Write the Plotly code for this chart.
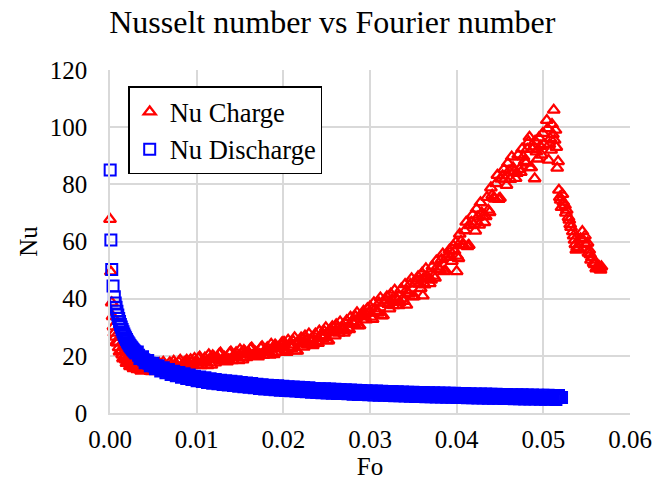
import plotly.graph_objects as go

# Half-step Fo sampling positions shared by both series (dense part of the bands)
fo_half_steps = [
    0.00345, 0.00375, 0.00405, 0.00435, 0.00465, 0.00495, 0.00525, 0.00555, 0.00585, 0.00615,
    0.00645, 0.00675, 0.00705, 0.00735, 0.00765, 0.00795, 0.00825, 0.00855, 0.00885, 0.00915,
    0.00945, 0.00975,
    0.01005, 0.01035, 0.01065, 0.01095, 0.01125, 0.01155, 0.01185, 0.01215, 0.01245, 0.01275,
    0.01305, 0.01335, 0.01365, 0.01395, 0.01425, 0.01455, 0.01485, 0.01515, 0.01545, 0.01575,
    0.01605, 0.01635, 0.01665, 0.01695, 0.01725, 0.01755, 0.01785, 0.01815, 0.01845, 0.01875,
    0.01905, 0.01935, 0.01965, 0.01995,
    0.02025, 0.02055, 0.02085, 0.02115, 0.02145, 0.02175, 0.02205, 0.02235, 0.02265, 0.02295,
    0.02325, 0.02355, 0.02385, 0.02415, 0.02445, 0.02475, 0.02505, 0.02535, 0.02565, 0.02595,
    0.02625, 0.02655, 0.02685, 0.02715, 0.02745, 0.02775, 0.02805, 0.02835, 0.02865, 0.02895,
    0.02925, 0.02955, 0.02985,
    0.03015, 0.03045, 0.03075, 0.03105, 0.03135, 0.03165, 0.03195, 0.03225, 0.03255, 0.03285,
    0.03315, 0.03345, 0.03375, 0.03405, 0.03435, 0.03465, 0.03495, 0.03525, 0.03555, 0.03585,
    0.03615, 0.03645, 0.03675, 0.03705, 0.03735, 0.03765, 0.03795, 0.03825, 0.03855, 0.03885,
    0.03915, 0.03945, 0.03975,
    0.04005, 0.04035, 0.04065, 0.04095, 0.04125, 0.04155, 0.04185, 0.04215, 0.04245, 0.04275,
    0.04305, 0.04335, 0.04365, 0.04395, 0.04425, 0.04455, 0.04485, 0.04515, 0.04545, 0.04575,
    0.04605, 0.04635, 0.04665, 0.04695, 0.04725, 0.04755, 0.04785, 0.04815, 0.04845, 0.04875,
    0.04905, 0.04935, 0.04965, 0.04995,
]

# Charge: Nusselt number against Fourier number
fo_charge = [
    0.0, 0.0001, 0.0002, 0.0003, 0.0004, 0.0005, 0.0006, 0.0008, 0.0010, 0.0012,
    0.0014, 0.0016, 0.0018, 0.0020, 0.0022, 0.0024, 0.0026, 0.0028, 0.0030,
    0.0033, 0.0036, 0.0039, 0.0042, 0.0045, 0.0048, 0.0051, 0.0054, 0.0057, 0.0060,
    0.0063, 0.0066, 0.0069, 0.0072, 0.0075, 0.0078, 0.0081, 0.0084, 0.0087, 0.0090,
    0.0093, 0.0096, 0.0099,
    0.0102, 0.0105, 0.0108, 0.0111, 0.0114, 0.0117, 0.0120, 0.0123, 0.0126, 0.0129,
    0.0132, 0.0135, 0.0138, 0.0141, 0.0144, 0.0147, 0.0150, 0.0153, 0.0156, 0.0159,
    0.0162, 0.0165, 0.0168, 0.0171, 0.0174, 0.0177, 0.0180, 0.0183, 0.0186, 0.0189,
    0.0192, 0.0195, 0.0198,
    0.0201, 0.0204, 0.0207, 0.0210, 0.0213, 0.0216, 0.0219, 0.0222, 0.0225, 0.0228,
    0.0231, 0.0234, 0.0237, 0.0240, 0.0243, 0.0246, 0.0249, 0.0252, 0.0255, 0.0258,
    0.0261, 0.0264, 0.0267, 0.0270, 0.0273, 0.0276, 0.0279, 0.0282, 0.0285, 0.0288,
    0.0291, 0.0294, 0.0297,
    0.0300, 0.0303, 0.0306, 0.0309, 0.0312, 0.0315, 0.0318, 0.0321, 0.0324, 0.0327,
    0.0330, 0.0333, 0.0336, 0.0339, 0.0342, 0.0345, 0.0348, 0.0351, 0.0354, 0.0357,
    0.0360, 0.0363, 0.0366, 0.0369, 0.0372, 0.0375, 0.0378, 0.0381, 0.0384, 0.0387,
    0.0390, 0.0393, 0.0396,
    0.0399, 0.0402, 0.0405, 0.0408, 0.0411, 0.0414, 0.0417, 0.0420, 0.0423, 0.0426,
    0.0429, 0.0432, 0.0435, 0.0438, 0.0441, 0.0444, 0.0447, 0.0450, 0.0453, 0.0456,
    0.0459, 0.0462, 0.0465, 0.0468, 0.0471, 0.0474, 0.0477, 0.0480, 0.0483, 0.0486,
    0.0489, 0.0492, 0.0495, 0.0498, 0.0501,
    0.0504, 0.0506, 0.0508, 0.0510, 0.0512, 0.0513, 0.0515, 0.0516, 0.0518, 0.0520,
    0.0522, 0.0525, 0.0527, 0.0530, 0.0532, 0.0534, 0.0536, 0.0538, 0.0540, 0.0545,
    0.0548, 0.0551, 0.0553, 0.0556, 0.0559, 0.0562, 0.0565, 0.0567,
    0.0342, 0.0361, 0.0400, 0.0484, 0.0490, 0.0509, 0.0514, 0.0517,
    0.0521, 0.0529, 0.0543, 0.0554,
    0.0505, 0.0507, 0.0511, 0.0519, 0.0523, 0.0526, 0.0531, 0.0535, 0.0537, 0.0539,
    0.0546, 0.0549, 0.0552, 0.0555, 0.0558, 0.0561, 0.0564, 0.0566,
    0.0007, 0.0009, 0.0011, 0.0013, 0.0015, 0.0017, 0.0019, 0.0021, 0.0023, 0.0025,
    0.0027, 0.0029, 0.00315,
] + fo_half_steps
nu_charge = [
    67.8, 49.4, 38.6, 33.8, 30.2, 28.0, 26.6, 24.6, 22.9, 21.5,
    20.4, 19.4, 18.6, 17.9, 17.3, 16.9, 16.5, 16.2, 16.0,
    16.9, 14.7, 16.0, 15.2, 17.4, 14.5, 16.6, 15.9, 17.4, 15.4,
    16.5, 15.1, 17.6, 15.5, 17.0, 16.3, 18.5, 15.6, 17.9, 17.2,
    18.7, 16.7, 17.9,
    19.1, 16.6, 18.5, 17.6, 20.4, 16.8, 19.5, 18.8, 20.6, 18.2,
    19.5, 17.9, 20.9, 18.4, 20.3, 19.4, 22.2, 18.6, 21.3, 20.6,
    22.4, 20.0, 21.3, 19.7, 22.7, 20.2, 22.2, 21.3, 24.1, 20.5,
    23.3, 22.5, 24.4,
    24.7, 21.3, 23.9, 22.7, 26.4, 21.7, 25.3, 24.4, 27.0, 23.8,
    25.6, 23.6, 27.7, 24.4, 27.1, 26.1, 29.9, 25.3, 29.1, 28.2,
    30.9, 28.0, 29.9, 28.0, 32.3, 29.2, 32.0, 31.1, 35.1, 30.6,
    34.5, 33.7, 36.5,
    37.2, 32.8, 36.5, 35.0, 40.3, 34.1, 39.3, 38.1, 41.7, 37.6,
    40.3, 37.6, 43.4, 39.1, 42.9, 41.6, 47.0, 40.8, 46.2, 45.1,
    48.9, 44.9, 47.8, 45.3, 51.3, 47.2, 51.2, 50.1, 55.7, 49.8,
    55.3, 54.5, 58.5,
    59.7, 54.1, 60.1, 58.6, 66.8, 58.7, 66.8, 66.0, 71.4, 65.8,
    70.0, 66.7, 75.5, 70.2, 76.2, 74.9, 83.2, 75.2, 83.0, 81.9,
    87.4, 81.8, 85.8, 82.1, 90.3, 84.2, 89.6, 87.5, 94.9, 85.9,
    93.1, 91.4, 96.3, 90.3, 94.0,
    102.4, 88.5, 96.0, 101.0, 106.0, 95.5, 93.0, 85.7, 78.0, 74.5,
    76.5, 72.7, 71.0, 67.5, 65.0, 63.5, 60.5, 57.0, 57.5, 63.5,
    62.0, 59.5, 57.0, 54.5, 52.0, 51.0, 50.5, 51.2,
    37.8, 41.0, 49.5, 96.5, 82.0, 92.0, 99.0, 88.0,
    72.0, 68.5, 61.0, 55.5,
    99.5, 94.0, 97.5, 75.5, 73.8, 70.0, 66.0, 62.0, 59.0, 58.0,
    60.5, 59.0, 56.0, 53.5, 52.5, 50.5, 51.5, 50.0,
    24.8, 24.6, 21.4, 21.9, 19.0, 19.9, 17.4, 18.4, 16.3, 17.6,
    15.6, 17.0, 15.2,
    # values at the half steps
    15.2, 17.2, 15.5, 16.7, 14.6, 16.4, 17.2, 15.2, 16.5, 17.8,
    16.0, 15.6, 16.0, 18.1, 16.6, 17.8, 15.7, 17.6, 18.5, 16.5,
    17.8, 19.1,
    16.9, 19.6, 17.7, 19.3, 16.6, 19.1, 20.1, 17.6, 19.2, 21.0,
    18.7, 18.3, 18.7, 21.4, 19.5, 21.1, 18.4, 20.9, 21.9, 19.4,
    21.0, 22.8, 20.5, 20.1, 20.5, 23.2, 21.3, 22.9, 20.3, 22.7,
    23.8, 21.3, 22.9, 24.7,
    22.0, 25.5, 23.1, 25.1, 21.8, 25.0, 26.3, 23.1, 25.4, 27.7,
    24.9, 24.4, 25.1, 28.7, 26.4, 28.5, 25.3, 28.7, 30.2, 27.0,
    29.5, 31.9, 29.2, 28.8, 29.7, 33.5, 31.4, 33.7, 30.5, 34.0,
    35.6, 32.6, 35.1,
    33.6, 38.6, 35.5, 38.5, 34.0, 38.6, 40.7, 36.5, 39.7, 43.0,
    39.3, 38.8, 39.9, 45.0, 42.0, 45.1, 40.7, 45.5, 47.7, 43.6,
    47.0, 50.5, 46.9, 46.5, 47.9, 53.2, 50.4, 53.7, 49.5, 54.5,
    57.0, 53.1, 56.7,
    54.9, 62.6, 58.9, 63.8, 58.3, 65.6, 69.3, 63.7, 68.6, 73.6,
    68.8, 68.8, 71.0, 78.8, 75.3, 80.3, 74.8, 81.9, 85.3, 79.7,
    84.7, 89.6, 84.5, 83.9, 85.3, 92.4, 88.1, 92.3, 85.9, 92.3,
    95.1, 88.9, 93.3, 97.9,
]

# Discharge: Nusselt number against Fourier number
fo_discharge = [
    0.00002, 0.0001, 0.0002, 0.00035, 0.0005, 0.0006, 0.0007, 0.0008, 0.0009, 0.0010,
    0.0011, 0.0012, 0.0013, 0.0014, 0.0015, 0.0016, 0.0017, 0.0018, 0.0019, 0.0020,
    0.0021, 0.0022, 0.0023, 0.0024, 0.0025, 0.0026, 0.0027, 0.0028, 0.0029, 0.0030,
    0.0033, 0.0036, 0.0039, 0.0042, 0.0045, 0.0048, 0.0051, 0.0054, 0.0057, 0.0060,
    0.0063, 0.0066, 0.0069, 0.0072, 0.0075, 0.0078, 0.0081, 0.0084, 0.0087, 0.0090,
    0.0093, 0.0096, 0.0099, 0.0102, 0.0105, 0.0108, 0.0111, 0.0114, 0.0117, 0.0120,
    0.0123, 0.0126, 0.0129, 0.0132, 0.0135, 0.0138, 0.0141, 0.0144, 0.0147, 0.0150,
    0.0153, 0.0156, 0.0159, 0.0162, 0.0165, 0.0168, 0.0171, 0.0174, 0.0177, 0.0180,
    0.0183, 0.0186, 0.0189, 0.0192, 0.0195, 0.0198, 0.0201, 0.0204, 0.0207, 0.0210,
    0.0213, 0.0216, 0.0219, 0.0222, 0.0225, 0.0228, 0.0231, 0.0234, 0.0237, 0.0240,
    0.0243, 0.0246, 0.0249, 0.0252, 0.0255, 0.0258, 0.0261, 0.0264, 0.0267, 0.0270,
    0.0273, 0.0276, 0.0279, 0.0282, 0.0285, 0.0288, 0.0291, 0.0294, 0.0297, 0.0300,
    0.0303, 0.0306, 0.0309, 0.0312, 0.0315, 0.0318, 0.0321, 0.0324, 0.0327, 0.0330,
    0.0333, 0.0336, 0.0339, 0.0342, 0.0345, 0.0348, 0.0351, 0.0354, 0.0357, 0.0360,
    0.0363, 0.0366, 0.0369, 0.0372, 0.0375, 0.0378, 0.0381, 0.0384, 0.0387, 0.0390,
    0.0393, 0.0396, 0.0399, 0.0402, 0.0405, 0.0408, 0.0411, 0.0414, 0.0417, 0.0420,
    0.0423, 0.0426, 0.0429, 0.0432, 0.0435, 0.0438, 0.0441, 0.0444, 0.0447, 0.0450,
    0.0453, 0.0456, 0.0459, 0.0462, 0.0465, 0.0468, 0.0471, 0.0474, 0.0477, 0.0480,
    0.0483, 0.0486, 0.0489, 0.0492, 0.0495, 0.0498, 0.0501, 0.0504, 0.0507, 0.0510,
    0.0513, 0.0516, 0.0519, 0.0521,
    0.00315,
] + fo_half_steps + [0.05025, 0.05055, 0.05085, 0.05115, 0.05145, 0.05175]
nu_discharge = [
    85.0, 60.5, 50.2, 44.4, 40.7, 38.5, 37.0, 35.6, 34.3, 33.1,
    32.0, 31.0, 30.1, 29.2, 28.4, 27.6, 26.9, 26.3, 25.7, 25.1,
    24.6, 24.1, 23.6, 23.2, 22.8, 22.4, 22.0, 21.7, 21.3, 21.0,
    20.2, 19.4, 18.6, 18.0, 17.4, 16.9, 16.4, 16.0, 15.6, 15.2,
    14.9, 14.6, 14.3, 14.0, 13.8, 13.6, 13.3, 13.1, 12.9, 12.7,
    12.5, 12.3, 12.1, 11.9, 11.8, 11.6, 11.5, 11.3, 11.2, 11.0,
    10.9, 10.8, 10.7, 10.6, 10.5, 10.4, 10.3, 10.2, 10.1, 10.0,
    9.9, 9.8, 9.7, 9.6, 9.5, 9.4, 9.35, 9.25, 9.15, 9.05,
    8.99, 8.93, 8.87, 8.81, 8.75, 8.69, 8.63, 8.57, 8.51, 8.45,
    8.39, 8.33, 8.27, 8.21, 8.15, 8.09, 8.03, 7.97, 7.91, 7.85,
    7.81, 7.77, 7.73, 7.69, 7.65, 7.61, 7.57, 7.53, 7.49, 7.45,
    7.41, 7.37, 7.33, 7.29, 7.25, 7.21, 7.17, 7.13, 7.09, 7.05,
    7.02, 6.99, 6.96, 6.93, 6.90, 6.87, 6.84, 6.81, 6.78, 6.75,
    6.72, 6.69, 6.66, 6.63, 6.60, 6.57, 6.54, 6.51, 6.48, 6.45,
    6.43, 6.41, 6.38, 6.36, 6.34, 6.32, 6.29, 6.27, 6.25, 6.23,
    6.20, 6.18, 6.16, 6.14, 6.11, 6.09, 6.07, 6.05, 6.02, 6.00,
    5.98, 5.96, 5.94, 5.92, 5.90, 5.89, 5.87, 5.85, 5.83, 5.81,
    5.79, 5.77, 5.75, 5.73, 5.71, 5.70, 5.68, 5.66, 5.64, 5.62,
    5.60, 5.59, 5.57, 5.56, 5.54, 5.52, 5.51, 5.49, 5.48, 5.46,
    5.44, 5.43, 5.41, 5.40,
    21.3,
    # values at the half steps
    19.1, 19.7, 17.6, 18.4, 16.5, 17.4, 15.5, 16.5, 14.7, 15.8,
    14.1, 15.2, 13.5, 14.6, 13.0, 14.2, 12.5, 13.7, 12.1, 13.3,
    11.7, 12.9,
    11.3, 12.6, 11.0, 12.3, 10.7, 12.0, 10.4, 11.7, 10.2, 11.5,
    10.0, 11.3, 9.8, 11.1, 9.6, 10.9, 9.4, 10.7, 9.2, 10.5,
    9.0, 10.3, 8.8, 10.1, 8.6, 9.9, 8.4, 9.7, 8.3, 9.6,
    8.1, 9.5, 8.0, 9.4,
    7.9, 9.2, 7.8, 9.1, 7.7, 9.0, 7.5, 8.9, 7.4, 8.8,
    7.3, 8.6, 7.2, 8.5, 7.1, 8.45, 7.0, 8.4, 6.9, 8.3,
    6.85, 8.2, 6.8, 8.1, 6.7, 8.05, 6.6, 8.0, 6.5, 7.9,
    6.45, 7.8, 6.4,
    7.7, 6.3, 7.7, 6.25, 7.6, 6.2, 7.55, 6.1, 7.5, 6.05,
    7.4, 6.0, 7.38, 5.95, 7.3, 5.9, 7.25, 5.8, 7.2, 5.75,
    7.14, 5.72, 7.1, 5.67, 7.05, 5.63, 7.0, 5.58, 6.96, 5.54,
    6.92, 5.49, 6.87,
    5.45, 6.83, 5.4, 6.78, 5.36, 6.74, 5.31, 6.69, 5.27, 6.65,
    5.23, 6.61, 5.2, 6.58, 5.16, 6.54, 5.12, 6.5, 5.08, 6.46,
    5.04, 6.42, 5.0, 6.39, 4.97, 6.35, 4.93, 6.31, 4.9, 6.28,
    4.87, 6.25, 4.83, 6.22,
    4.8, 6.19, 4.77, 6.15, 4.74, 6.12,
]

assert len(fo_charge) == len(nu_charge)
assert len(fo_discharge) == len(nu_discharge)

x_ticks = [0.00, 0.01, 0.02, 0.03, 0.04, 0.05, 0.06]
y_ticks = [0, 20, 40, 60, 80, 100, 120]

GRID = "#d9d9d9"
FONT = "Times New Roman"

fig = go.Figure()
fig.add_trace(go.Scatter(
    x=fo_charge, y=nu_charge, mode="markers", name="Nu Charge",
    legendgroup="charge", cliponaxis=False,
    marker=dict(symbol="triangle-up-open", size=10.5, color="#ff0000",
                line=dict(width=2.3, color="#ff0000")),
))
fig.add_trace(go.Scatter(
    x=fo_discharge, y=nu_discharge, mode="markers", name="Nu Discharge",
    legendgroup="discharge", cliponaxis=False,
    marker=dict(symbol="square-open", size=11, color="#0000ff",
                line=dict(width=2, color="#0000ff")),
))

axis_common = dict(
    showgrid=True, gridcolor=GRID, gridwidth=1.5,
    showline=True, linecolor=GRID, linewidth=1.5,
    zeroline=False, ticks="", tickfont=dict(size=25, color="black", family=FONT),
)

fig.update_layout(
    width=670, height=493,
    margin=dict(l=110, r=40, t=70, b=80),
    paper_bgcolor="white", plot_bgcolor="white",
    font=dict(family=FONT, color="black", size=25),
    title=dict(text="Nusselt number vs Fourier number", x=0.496, xanchor="center",
               y=0.955, yanchor="middle", yref="container",
               font=dict(size=32, family=FONT, color="black")),
    xaxis=dict(range=[0, 0.06], tickvals=x_ticks, tickformat=".2f",
               ticklabelstandoff=3,
               title=dict(text="Fo", font=dict(size=25, family=FONT), standoff=0),
               **axis_common),
    yaxis=dict(range=[0, 120], tickvals=y_ticks, ticklabelstandoff=16,
               title=dict(text="Nu", font=dict(size=25, family=FONT), standoff=5),
               **axis_common),
    legend=dict(x=0.035, y=0.952, xanchor="left", yanchor="top",
                bgcolor="white", bordercolor="black", borderwidth=1.5,
                font=dict(size=26.5, family=FONT, color="black"),
                tracegroupgap=0, itemwidth=30, entrywidth=160),
    showlegend=True,
)

fig.write_html("out.html")
